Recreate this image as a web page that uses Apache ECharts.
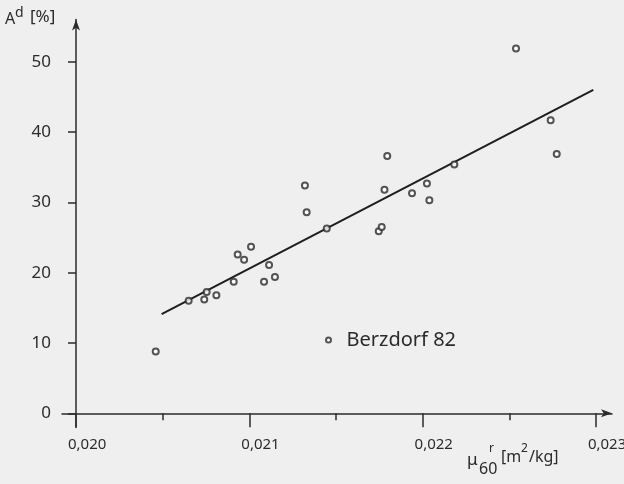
<!DOCTYPE html>
<html>
<head>
<meta charset="utf-8">
<script src="https://cdn.jsdelivr.net/npm/echarts@6/dist/echarts.min.js"></script>
<style>
html,body{margin:0;padding:0;background:#efefef;}
#c{width:624px;height:484px;}
</style>
</head>
<body>
<div id="c"></div>
<script>
// ---- data ----
var xMajorTicks = [0.020, 0.021, 0.022, 0.023];
var xMinorTicks = [0.0205, 0.0215, 0.0225];
var yTicks = [0, 10, 20, 30, 40, 50];
var seriesName = 'Berzdorf 82';
var muValues = [0.02046, 0.02065, 0.02074, 0.020754, 0.02081, 0.02091, 0.020933, 0.02097, 0.02101, 0.021085, 0.021114, 0.021148,
                0.021321, 0.021331, 0.021447, 0.021747, 0.021764, 0.02178, 0.021796, 0.021939, 0.022025, 0.022039, 0.022183,
                0.022539, 0.022739, 0.022774];
var ashValues = [8.8, 16.0, 16.2, 17.25, 16.8, 18.7, 22.6, 21.85, 23.7, 18.7, 21.1, 19.4,
                 32.4, 28.6, 26.3, 25.9, 26.5, 31.8, 36.6, 31.3, 32.7, 30.3, 35.4,
                 51.9, 41.7, 36.9];
var fitX = [0.020494, 0.022985];
var fitY = [14.1, 46.0];

var ink = '#2b2b2b';
var font = 'Noto Sans';
var pts = muValues.map(function (x, i) { return [x, ashValues[i]]; });
var fitPts = fitX.map(function (x, i) { return [x, fitY[i]]; });
function fmt(v) { return v.toFixed(3).replace('.', ','); }

var chart = echarts.init(document.getElementById('c'), null, {renderer: 'canvas'});
chart.setOption({
  backgroundColor: '#efefef',
  animation: false,
  textStyle: {fontFamily: font, color: ink},
  grid: {left: 62, right: 12, top: 19.6, bottom: 56.6, containLabel: false, outerBoundsMode: 'none'},
  legend: {
    data: [seriesName],
    left: 320, top: 325,
    itemWidth: 26, itemHeight: 5,
    textStyle: {fontSize: 20, color: ink, fontFamily: font}
  },
  xAxis: [{
    type: 'value', min: 0.0199192, max: 0.0230929, position: 'bottom', offset: -14.06,
    axisLine: {onZero: false, lineStyle: {color: ink, width: 1.5}, symbol: ['none', 'arrow'], symbolSize: [6, 11]},
    axisTick: {customValues: xMajorTicks, length: 14, lineStyle: {color: ink, width: 1.5}},
    axisLabel: {customValues: xMajorTicks, formatter: fmt, margin: 24, fontSize: 15, color: ink, align: 'left', padding: [0, 0, 0, -8]},
    splitLine: {show: false}
  }, {
    type: 'value', min: 0.0199192, max: 0.0230929, position: 'bottom', offset: -14.06,
    axisLine: {show: false, onZero: false},
    axisTick: {customValues: xMinorTicks, length: 7, lineStyle: {color: ink, width: 1.5}},
    axisLabel: {show: false},
    splitLine: {show: false}
  }],
  yAxis: {
    type: 'value', min: -2, max: 56, position: 'left', offset: -14,
    axisLine: {onZero: false, lineStyle: {color: ink, width: 1.5}, symbol: ['none', 'arrow'], symbolSize: [6, 11]},
    axisTick: {customValues: yTicks, length: 8, lineStyle: {color: ink, width: 1.5}},
    axisLabel: {customValues: yTicks, margin: 25, fontSize: 17, color: ink},
    splitLine: {show: false}
  },
  graphic: [
    {type: 'text', left: 5, top: 11, style: {text: 'A', fontSize: 16, fontFamily: font, fill: ink}},
    {type: 'text', left: 15, top: 6, style: {text: 'd', fontSize: 14, fontFamily: font, fill: ink}},
    {type: 'text', left: 30, top: 9, style: {text: '[%]', fontSize: 17, fontFamily: font, fill: ink}},
    {type: 'text', left: 467, top: 452, style: {text: 'μ', fontSize: 17, fontFamily: font, fill: ink}},
    {type: 'text', left: 479, top: 461, style: {text: '60', fontSize: 16, fontFamily: font, fill: ink}},
    {type: 'text', left: 489, top: 443, style: {text: 'r', fontSize: 12, fontFamily: font, fill: ink}},
    {type: 'text', left: 501, top: 449, style: {text: '[m', fontSize: 16, fontFamily: font, fill: ink}},
    {type: 'text', left: 521, top: 443, style: {text: '2', fontSize: 12, fontFamily: font, fill: ink}},
    {type: 'text', left: 529, top: 449, style: {text: '/kg]', fontSize: 16, fontFamily: font, fill: ink}}
  ],
  series: [{
    name: seriesName,
    type: 'scatter',
    data: pts,
    symbol: 'emptyCircle',
    symbolSize: 6,
    itemStyle: {color: ink, borderColor: ink, borderWidth: 1.5},
    z: 3
  }, {
    name: 'fit',
    type: 'line',
    data: fitPts,
    symbol: 'none',
    lineStyle: {color: '#1e1e1e', width: 2},
    z: 2
  }]
});
</script>
</body>
</html>
